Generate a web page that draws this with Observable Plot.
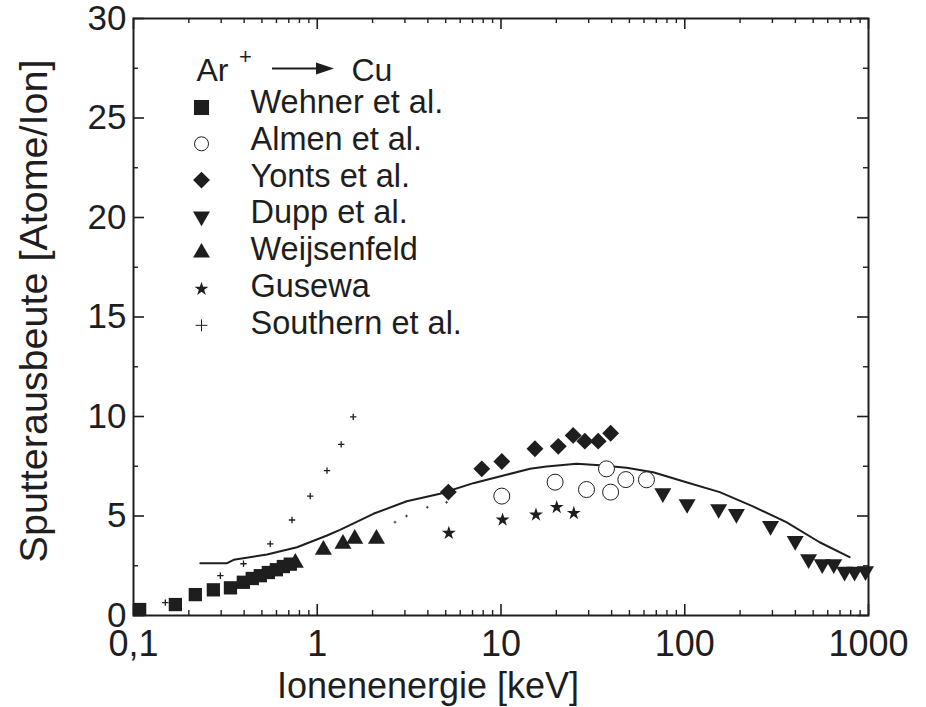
<!DOCTYPE html>
<html>
<head>
<meta charset="utf-8">
<script src="https://cdn.jsdelivr.net/npm/d3@7"></script>
<script src="https://cdn.jsdelivr.net/npm/@observablehq/plot@0.6"></script>
<style>
  body { margin: 0; background: #fff; }
  svg { display: block; }
</style>
</head>
<body>
<div id="chart"></div>
<script>
// Sputter yield of copper under Ar+ bombardment, several data sets plus a calculated curve.
// Energies in keV, yields in atoms per ion.

const wehnerE = [0.108, 0.169, 0.217, 0.272, 0.337, 0.396, 0.443, 0.49, 0.542, 0.599, 0.654, 0.713];
const wehnerY = [0.30, 0.55, 1.05, 1.29, 1.39, 1.67, 1.86, 2.0, 2.16, 2.3, 2.46, 2.58];

const almenE = [10.1, 19.7, 29.2, 37.5, 39.5, 47.8, 61.9];
const almenY = [6.0, 6.7, 6.33, 7.37, 6.2, 6.83, 6.82];

const yontsE = [5.17, 7.86, 10.1, 15.3, 20.5, 24.7, 28.6, 33.8, 39.5];
const yontsY = [6.2, 7.37, 7.74, 8.38, 8.5, 9.05, 8.76, 8.76, 9.16];

const duppE = [76, 103, 153, 191, 293, 399, 472, 560, 647, 741, 840, 963];
const duppY = [6.15, 5.6, 5.35, 5.1, 4.5, 3.75, 2.83, 2.58, 2.58, 2.2, 2.2, 2.23];

const weijsenfeldE = [0.76, 1.08, 1.38, 1.6, 2.1];
const weijsenfeldY = [2.65, 3.3, 3.6, 3.85, 3.85];

const gusewaE = [5.2, 10.2, 15.5, 20.1, 24.9];
const gusewaY = [4.14, 4.81, 5.06, 5.44, 5.14];

const southernE = [0.149, 0.297, 0.397, 0.555, 0.729, 0.916, 1.13, 1.35, 1.57];
const southernY = [0.65, 2.0, 2.6, 3.6, 4.8, 6.0, 7.28, 8.6, 9.98];
const southernFaintE = [2.65, 3.06, 3.97, 5.06];
const southernFaintY = [4.69, 5.0, 5.44, 5.69];

// calculated yield curve
const theoryE = [0.231, 0.323, 0.351, 0.533, 0.776, 1.13, 1.33, 2.02, 3.07, 4.66, 7.07, 10.7, 14.4, 17.7, 25.8, 34.5, 48.2, 67.3, 102, 155, 235, 357, 542, 789];
const theoryY = [2.63, 2.63, 2.8, 3.07, 3.43, 4.02, 4.3, 5.11, 5.74, 6.12, 6.65, 7.07, 7.37, 7.49, 7.62, 7.55, 7.42, 7.2, 6.7, 6.2, 5.48, 4.69, 3.68, 2.93];

const xTicks = [0.1, 1, 10, 100, 1000];
const xTickLabels = ["0,1", "1", "10", "100", "1000"];
const yTicks = [0, 5, 10, 15, 20, 25, 30];
const yTickLabels = ["0", "5", "10", "15", "20", "25", "30"];

const legendLabels = ["Wehner et al.", "Almen et al.", "Yonts et al.", "Dupp et al.", "Weijsenfeld", "Gusewa", "Southern et al."];

const ink = "#1e1e1e";
const zip = (xs, ys) => xs.map((x, i) => ({x, y: ys[i]}));

// minor ticks of the log axis (2..9 per decade) and of the linear axis (every 2.5)
const xMinor = [];
for (let d = 0.1; d < 1000; d *= 10) for (let k = 2; k <= 9; k++) xMinor.push(+(d * k).toPrecision(3));
const yMinor = d3.range(2.5, 30, 5);

const W = 926, H = 707, mL = 133, mR = 58, mT = 18, mB = 92;
const iW = W - mL - mR, iH = H - mT - mB;
const majorLen = 11, minorLen = 5;

// per-series marker styles
const styles = [
  {symbol: "square", r: 7.5, fill: ink},
  {symbol: "circle", r: 8, fill: "white", stroke: ink, strokeWidth: 1},
  {symbol: "diamond2", r: 7.6, fill: ink},
  {symbol: "triangle", r: 6.3, fill: ink, rotate: 180},
  {symbol: "triangle", r: 6.3, fill: ink},
  {symbol: "star", r: 4.4, fill: ink},
  {symbol: "plus", r: 2.2, stroke: ink, strokeWidth: 1.3}
];
const series = [
  zip(wehnerE, wehnerY), zip(almenE, almenY), zip(yontsE, yontsY), zip(duppE, duppY),
  zip(weijsenfeldE, weijsenfeldY), zip(gusewaE, gusewaY), zip(southernE, southernY)
];

const font = "Liberation Sans, Arial, Helvetica, sans-serif";

const marks = [];

// calculated curve
marks.push(Plot.line(zip(theoryE, theoryY), {x: "x", y: "y", stroke: ink, strokeWidth: 2}));

// measured points
series.forEach((data, i) => marks.push(Plot.dot(data, {x: "x", y: "y", ...styles[i]})));
marks.push(Plot.dot(zip(southernFaintE, southernFaintY), {x: "x", y: "y", symbol: "plus", r: 1, stroke: ink, strokeWidth: 0.8}));

// frame and inward ticks on all four sides
marks.push(Plot.frame({stroke: ink, strokeWidth: 2}));
marks.push(Plot.tickX(xTicks, {x: d => d, stroke: ink, strokeWidth: 1.6, insetTop: iH - majorLen}));
marks.push(Plot.tickX(xTicks, {x: d => d, stroke: ink, strokeWidth: 1.6, insetBottom: iH - majorLen}));
marks.push(Plot.tickX(xMinor, {x: d => d, stroke: ink, strokeWidth: 1.4, insetTop: iH - minorLen}));
marks.push(Plot.tickX(xMinor, {x: d => d, stroke: ink, strokeWidth: 1.4, insetBottom: iH - minorLen}));
marks.push(Plot.tickY(yTicks, {y: d => d, stroke: ink, strokeWidth: 1.6, insetRight: iW - majorLen}));
marks.push(Plot.tickY(yTicks, {y: d => d, stroke: ink, strokeWidth: 1.6, insetLeft: iW - majorLen}));
marks.push(Plot.tickY(yMinor, {y: d => d, stroke: ink, strokeWidth: 1.4, insetRight: iW - minorLen}));
marks.push(Plot.tickY(yMinor, {y: d => d, stroke: ink, strokeWidth: 1.4, insetLeft: iW - minorLen}));

// tick labels
marks.push(Plot.text(xTicks, {x: d => d, text: (d, i) => xTickLabels[i], frameAnchor: "bottom", lineAnchor: "middle", dy: 29, fontSize: 36, fill: ink, fontFamily: font}));
marks.push(Plot.text(yTicks, {y: d => d, text: (d, i) => yTickLabels[i], frameAnchor: "left", lineAnchor: "middle", dx: -7, textAnchor: "end", fontSize: 35, fill: ink, fontFamily: font}));

// axis titles
marks.push(Plot.text(["Ionenenergie [keV]"], {frameAnchor: "bottom", lineAnchor: "middle", textAnchor: "middle", dx: -73, dy: 71, fontSize: 36, fill: ink, fontFamily: font}));
marks.push(Plot.text(["Sputterausbeute [Atome/Ion]"], {frameAnchor: "left", lineAnchor: "middle", textAnchor: "middle", dx: -99, dy: -6, rotate: -90, fontSize: 39.5, fill: ink, fontFamily: font}));

// legend: reaction header and one row per data set
const hdr = {frameAnchor: "top-left", lineAnchor: "middle", textAnchor: "start", fill: ink, fontFamily: font};
marks.push(Plot.text(["Ar"], {...hdr, dx: 63, dy: 70 - mT, fontSize: 32}));
marks.push(Plot.text(["+"], {...hdr, textAnchor: "middle", dx: 112, dy: 56 - mT, fontSize: 22}));
marks.push(Plot.text(["Cu"], {...hdr, dx: 218, dy: 70 - mT, fontSize: 32}));
marks.push(() => {
  const g = d3.create("svg:g");
  g.append("line").attr("x1", 272).attr("x2", 318).attr("y1", 68.5).attr("y2", 68.5)
    .attr("stroke", ink).attr("stroke-width", 2);
  g.append("path").attr("d", "M316,62.5L334,68.5L316,74.5Z").attr("fill", ink);
  return g.node();
});

legendLabels.forEach((label, i) => {
  const rowText = 102 + 36.8 * i;
  const rowSym = 107 + 36.3 * i;
  const {r, ...st} = styles[i];
  const rLegend = i === 6 ? 3.9 : i === 0 ? 8.5 : i === 1 ? 7 : r;
  marks.push(Plot.dot([label], {frameAnchor: "top-left", dx: 201 - mL, dy: rowSym - mT, r: rLegend, ...st, strokeWidth: i === 6 ? 1 : st.strokeWidth}));
  marks.push(Plot.text([label], {...hdr, dx: 250 - mL, dy: rowText - mT, fontSize: 32.5}));
});

const chart = Plot.plot({
  width: W,
  height: H,
  marginLeft: mL,
  marginRight: mR,
  marginTop: mT,
  marginBottom: mB,
  style: {background: "white", fontFamily: font},
  x: {type: "log", domain: [0.1, 1000], axis: null},
  y: {domain: [0, 30], axis: null},
  marks
});

document.getElementById("chart").append(chart);
</script>
</body>
</html>
